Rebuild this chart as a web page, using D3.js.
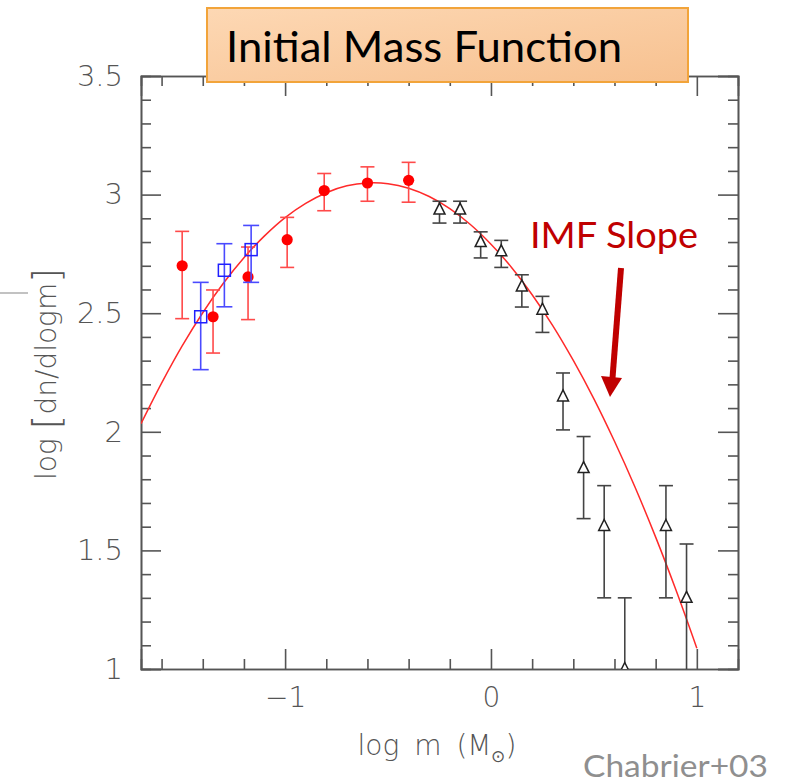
<!DOCTYPE html>
<html lang="en">
<head>
    <meta charset="UTF-8">
    <title>Initial Mass Function</title>
    <script src="https://d3js.org/d3.v7.min.js"></script>
    <style>
        body { margin: 0; background: #fff; }
        .tick text { font-family: "DejaVu Sans", sans-serif; font-weight: 200; fill: #555; }
    </style>
</head>
<body>
    <script>
        // red filled circles
        const redLogM = [-1.5, -1.35, -1.18, -0.99, -0.81, -0.6, -0.4];
        const redLogN = [2.70, 2.485, 2.653, 2.81, 3.017, 3.049, 3.06];
        const redLo   = [2.477, 2.332, 2.473, 2.693, 2.932, 2.972, 2.968];
        const redHi   = [2.845, 2.598, 2.779, 2.904, 3.089, 3.117, 3.136];

        // blue open squares
        const blueLogM = [-1.41, -1.295, -1.165];
        const blueLogN = [2.485, 2.681, 2.768];
        const blueLo   = [2.262, 2.527, 2.63];
        const blueHi   = [2.63, 2.793, 2.87];

        // black open triangles
        const triLogM = [-0.25, -0.15, -0.05, 0.05, 0.15, 0.25, 0.35, 0.45, 0.55, 0.65, 0.85, 0.95];
        const triLogN = [2.937, 2.937, 2.80, 2.761, 2.613, 2.515, 2.149, 1.847, 1.603, 1.0, 1.603, 1.30];
        const triLo   = [2.88, 2.88, 2.733, 2.693, 2.526, 2.419, 2.008, 1.634, 1.30, 0.7, 1.30, 0.7];
        const triHi   = [2.972, 2.972, 2.843, 2.807, 2.662, 2.571, 2.248, 1.98, 1.773, 1.30, 1.773, 1.527];

        // lognormal fit
        const fitLogM = [-1.7, -1.6, -1.5, -1.4, -1.3, -1.2, -1.1, -1.0, -0.9, -0.8, -0.7, -0.6, -0.5, -0.4,
                         -0.3, -0.2, -0.1, 0, 0.1, 0.2, 0.3, 0.4, 0.5, 0.6, 0.7, 0.8, 0.9, 1.0];
        const fitLogN = [2.034, 2.205, 2.362, 2.502, 2.626, 2.734, 2.826, 2.903, 2.963, 3.008, 3.037, 3.049, 3.046, 3.027,
                         2.992, 2.941, 2.874, 2.791, 2.693, 2.578, 2.448, 2.301, 2.139, 1.960, 1.766, 1.556, 1.330, 1.088];

        const xMajor = [-1, 0, 1];
        const xMinor = [-1.6, -1.4, -1.2, -0.8, -0.6, -0.4, -0.2, 0.2, 0.4, 0.6, 0.8];
        const yMajor = [1, 1.5, 2, 2.5, 3, 3.5];
        const yMinor = d3.range(10, 36).filter(d => d % 5 !== 0).map(d => d / 10);

        const width = 792, height = 783;
        const marginLeft = 141, marginRight = 738, marginTop = 76, marginBottom = 669;

        const x = d3.scaleLinear().domain([-1.7, 1.2]).range([marginLeft, marginRight]);
        const y = d3.scaleLinear().domain([1, 3.5]).range([marginBottom, marginTop]);

        const svg = d3.select("body").append("svg")
            .attr("width", width)
            .attr("height", height);

        const defs = svg.append("defs");
        defs.append("clipPath").attr("id", "plot")
            .append("rect")
            .attr("x", marginLeft).attr("y", marginTop)
            .attr("width", marginRight - marginLeft).attr("height", marginBottom - marginTop);
        const grad = defs.append("linearGradient").attr("id", "titleFill")
            .attr("x1", "0%").attr("y1", "0%").attr("x2", "100%").attr("y2", "100%");
        grad.append("stop").attr("offset", "0%").attr("stop-color", "#fdd8b4");
        grad.append("stop").attr("offset", "100%").attr("stop-color", "#f7c190");

        // axes, ticks inward on all four sides
        const fmt = d3.format("~g");
        const axisCol = "#555";
        function styleAxis(g) {
            g.select(".domain").attr("stroke", axisCol).attr("stroke-width", 1.6);
            g.selectAll(".tick line").attr("stroke", axisCol).attr("stroke-width", 1.6);
        }

        svg.append("g").attr("transform", `translate(0,${marginBottom})`)
            .call(d3.axisBottom(x).tickValues(xMajor).tickSize(-20).tickPadding(18).tickFormat(fmt))
            .call(styleAxis)
            .call(g => g.selectAll("text").attr("font-size", 28));
        svg.append("g").attr("transform", `translate(0,${marginBottom})`)
            .call(d3.axisBottom(x).tickValues(xMinor).tickSize(-10).tickFormat(""))
            .call(styleAxis);
        svg.append("g").attr("transform", `translate(0,${marginTop})`)
            .call(d3.axisTop(x).tickValues(xMajor).tickSize(-20).tickFormat(""))
            .call(styleAxis);
        svg.append("g").attr("transform", `translate(0,${marginTop})`)
            .call(d3.axisTop(x).tickValues(xMinor).tickSize(-10).tickFormat(""))
            .call(styleAxis);

        svg.append("g").attr("transform", `translate(${marginLeft},0)`)
            .call(d3.axisLeft(y).tickValues(yMajor).tickSize(-20).tickPadding(18).tickFormat(fmt))
            .call(styleAxis)
            .call(g => g.selectAll("text").attr("font-size", 29));
        svg.append("g").attr("transform", `translate(${marginLeft},0)`)
            .call(d3.axisLeft(y).tickValues(yMinor).tickSize(-10).tickFormat(""))
            .call(styleAxis);
        svg.append("g").attr("transform", `translate(${marginRight},0)`)
            .call(d3.axisRight(y).tickValues(yMajor).tickSize(-20).tickFormat(""))
            .call(styleAxis);
        svg.append("g").attr("transform", `translate(${marginRight},0)`)
            .call(d3.axisRight(y).tickValues(yMinor).tickSize(-10).tickFormat(""))
            .call(styleAxis);

        const plot = svg.append("g").attr("clip-path", "url(#plot)");

        // fit curve
        plot.append("path")
            .datum(fitLogM.map((m, i) => [m, fitLogN[i]]))
            .attr("fill", "none")
            .attr("stroke", "#ff2a2a")
            .attr("stroke-width", 1.5)
            .attr("d", d3.line().x(d => x(d[0])).y(d => y(d[1])).curve(d3.curveCatmullRom));

        function errorBars(ms, lo, hi, color, cap, sw) {
            const g = plot.append("g").attr("stroke", color).attr("stroke-width", sw).attr("fill", "none");
            ms.forEach((m, i) => {
                const cx = x(m);
                g.append("line").attr("x1", cx).attr("x2", cx).attr("y1", y(lo[i])).attr("y2", y(hi[i]));
                g.append("line").attr("x1", cx - cap).attr("x2", cx + cap).attr("y1", y(lo[i])).attr("y2", y(lo[i]));
                g.append("line").attr("x1", cx - cap).attr("x2", cx + cap).attr("y1", y(hi[i])).attr("y2", y(hi[i]));
            });
        }

        errorBars(redLogM, redLo, redHi, "#ff4a4a", 7, 1.6);
        plot.append("g").selectAll("circle")
            .data(redLogM).join("circle")
            .attr("cx", d => x(d))
            .attr("cy", (d, i) => y(redLogN[i]))
            .attr("r", 5.6)
            .attr("fill", "#ff0000");

        errorBars(blueLogM, blueLo, blueHi, "#4a4aff", 8, 1.6);
        plot.append("g").selectAll("rect")
            .data(blueLogM).join("rect")
            .attr("x", d => x(d) - 6)
            .attr("y", (d, i) => y(blueLogN[i]) - 6)
            .attr("width", 12).attr("height", 12)
            .attr("fill", "none")
            .attr("stroke", "#1f1fff")
            .attr("stroke-width", 1.5);

        errorBars(triLogM, triLo, triHi, "#444", 7, 1.6);
        plot.append("g").selectAll("path")
            .data(triLogM).join("path")
            .attr("transform", (d, i) => `translate(${x(d)},${y(triLogN[i])})`)
            .attr("d", "M0,-6.5L5.5,4.5L-5.5,4.5Z")
            .attr("fill", "#fff")
            .attr("stroke", "#222")
            .attr("stroke-width", 1.5);

        // axis titles
        const yl = svg.append("text")
            .attr("transform", `translate(56,374) rotate(-90)`)
            .attr("text-anchor", "middle")
            .attr("font-family", "DejaVu Sans, sans-serif")
            .attr("font-weight", 200)
            .attr("font-size", 28)
            .attr("fill", "#555");
        yl.append("tspan").text("log ");
        yl.append("tspan").attr("font-size", 38).attr("dy", 3).text("[");
        yl.append("tspan").attr("dy", -3).text("dn/dlogm");
        yl.append("tspan").attr("font-size", 38).attr("dy", 3).text("]");

        const xl = svg.append("text")
            .attr("x", 437).attr("y", 755)
            .attr("text-anchor", "middle")
            .attr("font-family", "DejaVu Sans, sans-serif")
            .attr("font-weight", 200)
            .attr("font-size", 28)
            .attr("fill", "#555")
            .attr("word-spacing", 6);
        xl.append("tspan").text("log m (M");
        xl.append("tspan").attr("font-size", 17).attr("dy", 7).text("⊙");
        xl.append("tspan").attr("dy", -7).text(")");

        // stray mark at the slide's left edge
        svg.append("line")
            .attr("x1", 0).attr("x2", 28).attr("y1", 293).attr("y2", 293)
            .attr("stroke", "#999").attr("stroke-width", 1.2);

        // title box
        svg.append("rect")
            .attr("x", 207).attr("y", 8)
            .attr("width", 481).attr("height", 74)
            .attr("fill", "url(#titleFill)")
            .attr("stroke", "#f2a43a")
            .attr("stroke-width", 2);
        svg.append("text")
            .attr("x", 226).attr("y", 62)
            .attr("font-family", "Lato, sans-serif")
            .attr("font-size", 43)
            .attr("fill", "#000")
            .attr("textLength", 396)
            .attr("lengthAdjust", "spacingAndGlyphs")
            .text("Initial Mass Function");

        // annotation
        svg.append("text")
            .attr("x", 530).attr("y", 248)
            .attr("font-family", "Lato, sans-serif")
            .attr("font-size", 36)
            .attr("fill", "#c00000")
            .attr("textLength", 168)
            .attr("lengthAdjust", "spacingAndGlyphs")
            .text("IMF Slope");
        svg.append("line")
            .attr("x1", 621).attr("y1", 268)
            .attr("x2", 612.5).attr("y2", 378)
            .attr("stroke", "#c00000")
            .attr("stroke-width", 6);
        svg.append("path")
            .attr("d", "M601,376L622,378L610,397Z")
            .attr("fill", "#c00000");

        svg.append("text")
            .attr("x", 583).attr("y", 777)
            .attr("font-family", "Lato, sans-serif")
            .attr("font-weight", 400)
            .attr("font-size", 31)
            .attr("fill", "#8f8f8f")
            .attr("textLength", 185)
            .attr("lengthAdjust", "spacingAndGlyphs")
            .text("Chabrier+03");
    </script>
</body>
</html>
